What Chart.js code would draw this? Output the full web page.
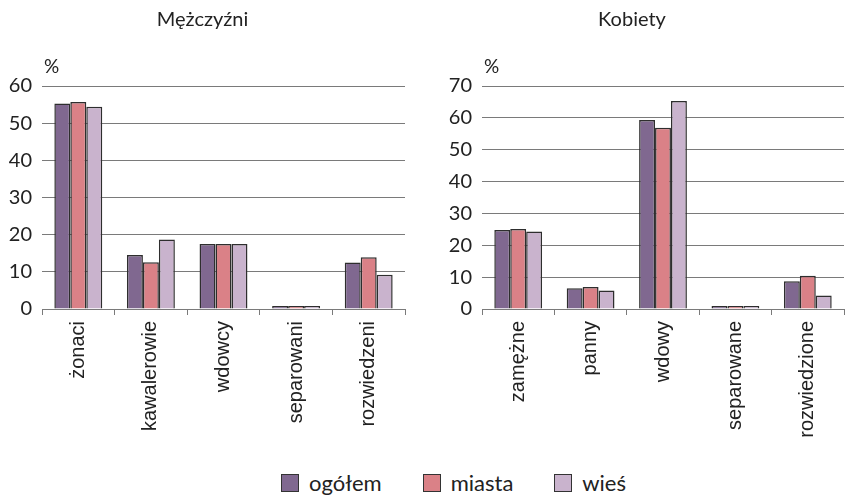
<!DOCTYPE html>
<html>
<head>
<meta charset="utf-8">
<script src="https://cdn.jsdelivr.net/npm/chart.js@4/dist/chart.umd.min.js"></script>
<style>
  body { margin: 0; background: #fff; width: 847px; height: 496px; position: relative; overflow: hidden; }
  #menBox { position: absolute; left: 0; top: 0; width: 420px; height: 445px; }
  #womenBox { position: absolute; left: 420px; top: 0; width: 427px; height: 445px; }
  #legend { position: absolute; left: 281px; top: 469px; white-space: nowrap;
            font-family: Lato, sans-serif; font-size: 22px; color: #222; }
  #legend span.item { display: inline-block; margin-right: 41px; }
  #legend span.box { display: inline-block; width: 16px; height: 16px; border: 1px solid #333;
                     vertical-align: -1px; margin-right: 10px; }
</style>
</head>
<body>
<div id="menBox"><canvas id="menChart"></canvas></div>
<div id="womenBox"><canvas id="womenChart"></canvas></div>
<div id="legend"></div>
<script>
// series names and colours
const seriesNames = ['ogółem', 'miasta', 'wieś'];
const seriesColors = ['#806890', '#da8187', '#c9b3cd'];

// Mężczyźni
const menLabels = ['żonaci', 'kawalerowie', 'wdowcy', 'separowani', 'rozwiedzeni'];
const menOgolem = [55.3, 14.5, 17.5, 0.2, 12.5];
const menMiasta = [55.7, 12.6, 17.5, 0.2, 13.9];
const menWies   = [54.4, 18.7, 17.5, 0.2, 9.2];

// Kobiety
const womenLabels = ['zamężne', 'panny', 'wdowy', 'separowane', 'rozwiedzione'];
const womenOgolem = [24.8, 6.5, 59.3, 0.2, 8.7];
const womenMiasta = [25.1, 6.9, 56.9, 0.2, 10.4];
const womenWies   = [24.3, 5.8, 65.3, 0.2, 4.2];

const menMax = 60;
const womenMax = 70;

// draws the small "%" above the value axis
const percentPlugin = {
  id: 'percentMark',
  afterDraw(chart) {
    const ctx = chart.ctx;
    ctx.save();
    ctx.font = '19px Lato, sans-serif';
    ctx.fillStyle = '#222';
    ctx.textAlign = 'left';
    ctx.textBaseline = 'middle';
    ctx.fillText('%', chart.chartArea.left + 2, chart.chartArea.top - 19);
    ctx.restore();
  }
};

function makeChart(canvasId, title, labels, values, maxVal, yWidth, rightPad) {
  const datasets = values.map((v, i) => ({
    label: seriesNames[i],
    data: v,
    backgroundColor: seriesColors[i],
    borderColor: '#2e2e2e',
    borderWidth: 1.5,
    borderSkipped: 'bottom',
    minBarLength: 3,
    categoryPercentage: 0.66,
    barPercentage: 1.0
  }));

  return new Chart(document.getElementById(canvasId), {
    type: 'bar',
    data: { labels: labels, datasets: datasets },
    plugins: [percentPlugin],
    options: {
      responsive: true,
      maintainAspectRatio: false,
      animation: false,
      layout: { padding: { top: 0, right: rightPad, bottom: 0, left: 0 } },
      plugins: {
        legend: { display: false },
        tooltip: { enabled: false },
        title: {
          display: true,
          text: title,
          color: '#222',
          font: { family: 'Lato', size: 20, weight: 'normal' },
          padding: { top: 8, bottom: 54 }
        }
      },
      scales: {
        x: {
          offset: true,
          grid: {
            offset: true,
            drawOnChartArea: false,
            drawTicks: true,
            tickLength: 6,
            color: '#7a7a7a'
          },
          border: { display: true, color: '#7a7a7a', width: 1 },
          ticks: {
            color: '#222',
            minRotation: 90,
            maxRotation: 90,
            padding: 6,
            font: { family: 'Liberation Sans', size: 20 }
          },
          afterFit(scale) { scale.height = 136; }
        },
        y: {
          min: 0,
          max: maxVal,
          ticks: {
            stepSize: 10,
            color: '#222',
            padding: 10,
            font: { family: 'Lato', size: 20 }
          },
          grid: { color: '#7a7a7a', lineWidth: 1, drawTicks: false },
          border: { display: false },
          afterFit(scale) { scale.width = yWidth; }
        }
      }
    }
  });
}

makeChart('menChart', 'Mężczyźni', menLabels, [menOgolem, menMiasta, menWies], menMax, 42, 15);
makeChart('womenChart', 'Kobiety', womenLabels, [womenOgolem, womenMiasta, womenWies], womenMax, 62, 3);

// legend shared by both charts
const legend = document.getElementById('legend');
seriesNames.forEach((name, i) => {
  const item = document.createElement('span');
  item.className = 'item';
  item.innerHTML = '<span class="box" style="background:' + seriesColors[i] + '"></span>' + name;
  legend.appendChild(item);
});
</script>
</body>
</html>
